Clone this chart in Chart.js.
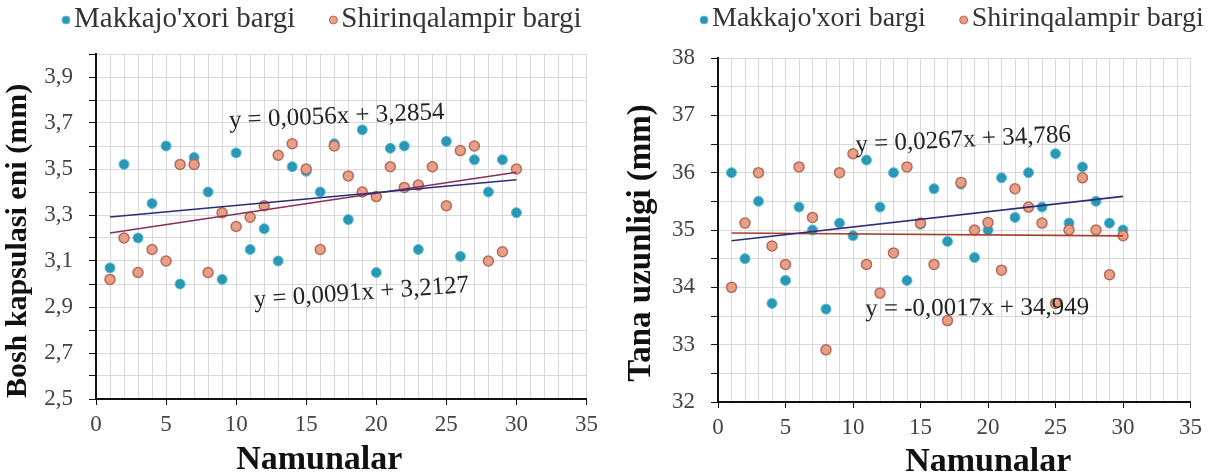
<!DOCTYPE html>
<html>
<head>
  <title>Namunalar</title>
  <script src="https://cdn.jsdelivr.net/npm/chart.js"></script>
  <style>
    body {
      margin: 0;
      background: #ffffff;
      width: 1208px;
      height: 475px;
      overflow: hidden;
    }
    .panel {
      position: absolute;
      top: 0;
      height: 475px;
    }
    #leftPanel { left: 0; width: 604px; }
    #rightPanel { left: 604px; width: 604px; }
  </style>
</head>
<body>
  <div class="panel" id="leftPanel"><canvas id="leftChart"></canvas></div>
  <div class="panel" id="rightPanel"><canvas id="rightChart"></canvas></div>

  <script>
    // sample numbers (x axis)
    const samples = [1, 2, 3, 4, 5, 6, 7, 8, 9, 10, 11, 12, 13, 14, 15,
                     16, 17, 18, 19, 20, 21, 22, 23, 24, 25, 26, 27, 28, 29, 30];
    const seriesNames = ["Makkajo'xori bargi", 'Shirinqalampir bargi'];
    const xTitle = 'Namunalar';

    // Bosh kapsulasi eni (mm)
    const headMakka = [3.07, 3.52, 3.20, 3.35, 3.60, 3.00, 3.55, 3.40, 3.02, 3.57,
                       3.15, 3.24, 3.10, 3.51, 3.49, 3.40, 3.61, 3.28, 3.67, 3.05,
                       3.59, 3.60, 3.15, 3.51, 3.62, 3.12, 3.54, 3.40, 3.54, 3.31];
    const headShirin = [3.02, 3.20, 3.05, 3.15, 3.10, 3.52, 3.52, 3.05, 3.31, 3.25,
                        3.29, 3.34, 3.56, 3.61, 3.50, 3.15, 3.60, 3.47, 3.40, 3.38,
                        3.51, 3.42, 3.43, 3.51, 3.34, 3.58, 3.60, 3.10, 3.14, 3.50];

    // Tana uzunligi (mm)
    const bodyMakka = [36.00, 34.50, 35.50, 33.72, 34.12, 35.40, 35.00, 33.62, 35.12, 34.90,
                       36.22, 35.40, 36.00, 34.12, 35.10, 35.72, 34.80, 35.80, 34.52, 35.00,
                       35.91, 35.22, 36.00, 35.40, 36.33, 35.12, 36.10, 35.50, 35.12, 35.00];
    const bodyShirin = [34.00, 35.12, 36.00, 34.72, 34.40, 36.10, 35.22, 32.91, 36.00, 36.33,
                        34.40, 33.90, 34.60, 36.10, 35.12, 34.40, 33.42, 35.83, 35.00, 35.13,
                        34.30, 35.72, 35.40, 35.12, 33.72, 35.00, 35.91, 35.00, 34.22, 34.90];

    // linear trendlines as printed on the chart: [slope, intercept]
    const headTrendMakka = [0.0056, 3.2854];
    const headTrendShirin = [0.0091, 3.2127];
    const bodyTrendMakka = [0.0267, 34.786];
    const bodyTrendShirin = [-0.0017, 34.949];

    const headEquations = ['y = 0,0056x + 3,2854', 'y = 0,0091x + 3,2127'];
    const bodyEquations = ['y = 0,0267x + 34,786', 'y = -0,0017x + 34,949'];

    const serif = "'Liberation Serif', 'Times New Roman', serif";
    const blue = '#2a98b5';
    const orangeFill = '#e89f85';
    const orangeBorder = '#b66a5c';

    function toPoints(values) {
      return samples.map((s, i) => ({ x: s, y: values[i] }));
    }

    function trendPoints(coef) {
      const first = samples[0];
      const last = samples[samples.length - 1];
      return [
        { x: first, y: coef[0] * first + coef[1] },
        { x: last, y: coef[0] * last + coef[1] }
      ];
    }

    // legend row, trendline equations (anchored in data units) and axis captions
    const textPlugin = {
      id: 'captions',
      afterDatasetsDraw(chart, args, opts) {
        const ctx = chart.ctx;
        const xs = chart.scales.x, ys = chart.scales.y;
        const area = chart.chartArea;
        ctx.save();

        // legend: the two scatter series
        ctx.font = opts.legendSize + 'px ' + serif;
        ctx.textAlign = 'left';
        ctx.textBaseline = 'middle';
        let lx = opts.legendX;
        chart.data.datasets.slice(0, 2).forEach(ds => {
          ctx.beginPath();
          ctx.arc(lx, opts.legendY + 1, 4, 0, Math.PI * 2);
          ctx.fillStyle = ds.backgroundColor;
          ctx.fill();
          ctx.lineWidth = 1;
          ctx.strokeStyle = ds.borderColor;
          ctx.stroke();
          ctx.fillStyle = '#333';
          ctx.fillText(ds.label, lx + 8, opts.legendY);
          lx += 8 + ctx.measureText(ds.label).width + opts.legendGap;
        });

        ctx.fillStyle = '#222';
        ctx.font = '25px ' + serif;
        ctx.textBaseline = 'alphabetic';
        opts.labels.forEach(l => {
          ctx.save();
          ctx.translate(xs.getPixelForValue(l.x), ys.getPixelForValue(l.y));
          ctx.rotate(l.angle * Math.PI / 180);
          ctx.fillText(l.text, 0, 0);
          ctx.restore();
        });

        ctx.fillStyle = '#111';
        ctx.font = 'bold 34px ' + serif;
        ctx.textAlign = 'center';
        ctx.fillText(xTitle, (area.left + area.right) / 2 + opts.xShift, opts.xBaseline);

        ctx.font = 'bold ' + opts.ySize + 'px ' + serif;
        ctx.textBaseline = 'middle';
        ctx.translate(opts.yCenter[0], opts.yCenter[1]);
        ctx.rotate(-Math.PI / 2);
        ctx.fillText(opts.yTitle, 0, 0);
        ctx.restore();
      }
    };

    function makeChart(id, cfg) {
      const scatterMakka = {
        label: seriesNames[0],
        type: 'scatter',
        data: toPoints(cfg.makka),
        backgroundColor: blue,
        borderColor: '#58bdd6',
        borderWidth: 1,
        pointRadius: 5,
        order: 2
      };
      const scatterShirin = {
        label: seriesNames[1],
        type: 'scatter',
        data: toPoints(cfg.shirin),
        backgroundColor: orangeFill,
        borderColor: orangeBorder,
        borderWidth: 1.5,
        pointRadius: 5,
        order: 1
      };
      const lineMakka = {
        label: 'trend1',
        type: 'line',
        data: trendPoints(cfg.trendMakka),
        borderColor: '#2c2c78',
        borderWidth: 1.6,
        pointRadius: 0,
        fill: false,
        order: 0
      };
      const lineShirin = {
        label: 'trend2',
        type: 'line',
        data: trendPoints(cfg.trendShirin),
        borderColor: cfg.trendColor,
        borderWidth: 1.6,
        pointRadius: 0,
        fill: false,
        order: 0
      };

      return new Chart(document.getElementById(id), {
        type: 'scatter',
        data: { datasets: [scatterMakka, scatterShirin, lineMakka, lineShirin] },
        options: {
          responsive: true,
          maintainAspectRatio: false,
          animation: false,
          layout: { padding: cfg.padding },
          plugins: {
            legend: { display: false },
            tooltip: { enabled: false },
            captions: {
              legendX: cfg.legendX,
              legendY: 19,
              legendSize: cfg.legendSize,
              legendGap: 38,
              labels: cfg.equations,
              xShift: cfg.xShift,
              xBaseline: cfg.xBaseline,
              yTitle: cfg.yTitle,
              ySize: cfg.yTitleSize,
              yCenter: cfg.yCenter
            }
          },
          scales: {
            x: {
              type: 'linear',
              min: 0,
              max: 35,
              afterFit: s => { s.height = cfg.xHeight; },
              ticks: {
                stepSize: 1,
                autoSkip: false,
                maxRotation: 0,
                padding: 6,
                color: '#444',
                font: { family: serif, size: 23 },
                callback: v => (v % 5 === 0 ? v : '')
              },
              grid: {
                color: '#d9d9d9',
                tickLength: 6,
                tickColor: c => (c.tick && c.tick.value % 5 === 0 ? '#111' : 'rgba(0,0,0,0)')
              },
              border: { color: '#111', width: 2 }
            },
            y: {
              min: cfg.yMin,
              max: cfg.yMax,
              afterFit: s => { s.width = cfg.yWidth; },
              ticks: {
                stepSize: cfg.yStep,
                autoSkip: false,
                padding: 16,
                color: '#444',
                font: { family: serif, size: 23 },
                callback: cfg.yLabel
              },
              grid: {
                color: '#d9d9d9',
                tickLength: 7,
                tickColor: '#111'
              },
              border: { color: '#111', width: 2 }
            }
          }
        },
        plugins: [textPlugin]
      });
    }

    makeChart('leftChart', {
      makka: headMakka,
      shirin: headShirin,
      trendMakka: headTrendMakka,
      trendShirin: headTrendShirin,
      trendColor: '#86305a',
      yMin: 2.5, yMax: 4.0, yStep: 0.1,
      yLabel: (v, i) => (i % 2 === 0 && i < 15 ? v.toFixed(1).replace('.', ',') : ''),
      yTitle: 'Bosh kapsulasi eni (mm)',
      yTitleSize: 30,
      yCenter: [18, 241],
      yWidth: 96,
      xHeight: 76,
      padding: { left: 0, right: 14, top: 54, bottom: 0 },
      legendX: 66,
      legendSize: 29,
      xShift: -22,
      xBaseline: 469,
      equations: [
        { text: headEquations[0], x: 9.5, y: 3.68, angle: -2.3 },
        { text: headEquations[1], x: 11.3, y: 2.9, angle: -4 }
      ]
    });

    makeChart('rightChart', {
      makka: bodyMakka,
      shirin: bodyShirin,
      trendMakka: bodyTrendMakka,
      trendShirin: bodyTrendShirin,
      trendColor: '#a3402e',
      yMin: 32, yMax: 38, yStep: 0.5,
      yLabel: v => (Number.isInteger(v) ? v : ''),
      yTitle: 'Tana uzunligi (mm)',
      yTitleSize: 33,
      yCenter: [37, 243],
      yWidth: 114,
      xHeight: 73,
      padding: { left: 0, right: 13, top: 58, bottom: 0 },
      legendX: 100,
      legendSize: 28,
      xShift: 34,
      xBaseline: 471,
      equations: [
        { text: bodyEquations[0], x: 10.2, y: 36.36, angle: -2.8 },
        { text: bodyEquations[1], x: 10.9, y: 33.5, angle: -0.5 }
      ]
    });
  </script>
</body>
</html>
